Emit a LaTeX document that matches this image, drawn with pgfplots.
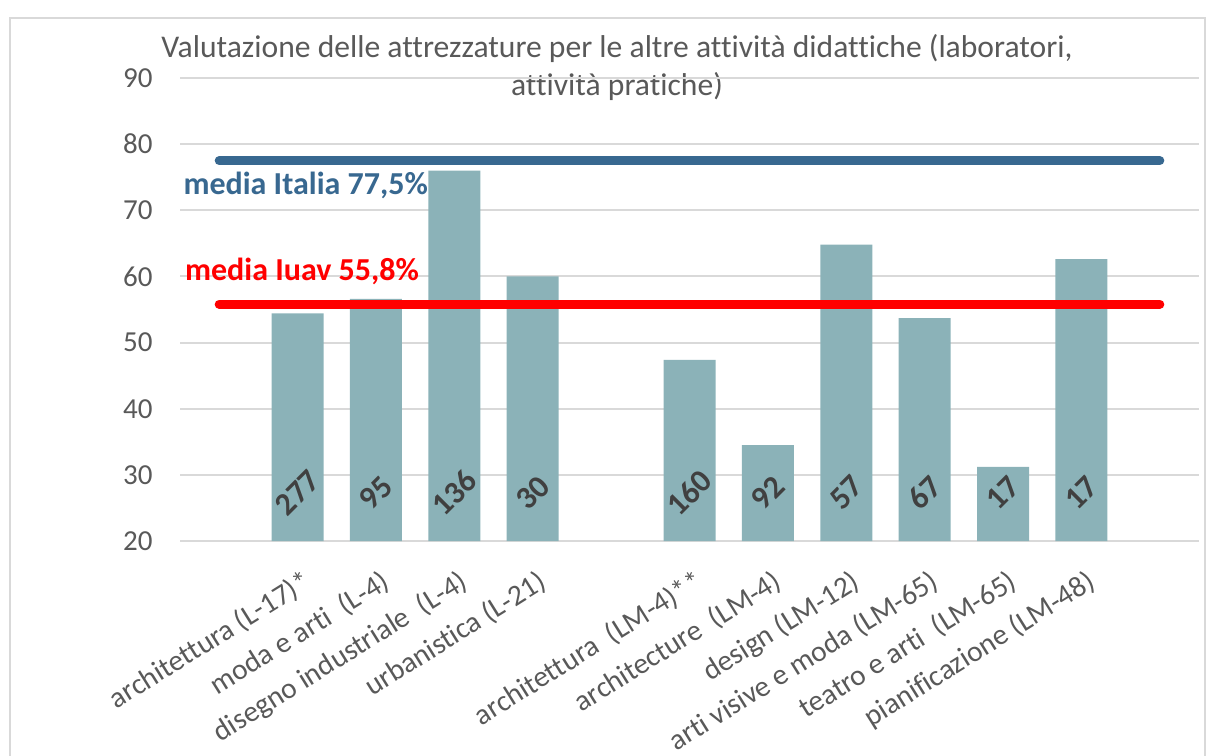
\documentclass[border=0pt]{standalone}
\usepackage{fontspec}
\setmainfont{Carlito}[Ligatures=NoCommon]
\usepackage{pgfplots}
\pgfplotsset{compat=1.18}

\definecolor{barc}{HTML}{8BB2B8}
\definecolor{italia}{HTML}{386890}
\definecolor{txtgray}{HTML}{595959}
\definecolor{gridc}{HTML}{D9D9D9}
\definecolor{lblc}{HTML}{404040}

\begin{document}
\begin{tikzpicture}
\useasboundingbox (0pt,0pt) rectangle (604pt,377.5pt);
\draw[gridc, line width=0.8pt] (5pt,-2pt) rectangle (602.5pt,368.5pt);
% titolo
\node[align=center, text=txtgray, font=\fontsize{15.8}{19}\selectfont]
  at (308.5pt,343.5pt) {Valutazione delle attrezzature per le altre attività didattiche (laboratori,\\attività pratiche)};
\begin{axis}[
    at={(90pt,107pt)}, anchor=south west,
    scale only axis, width=509.5pt, height=231.5pt,
    xmin=-0.5, xmax=12.5, ymin=20, ymax=90,
    ytick={20,30,...,90},
    xtick={1,2,3,4,6,7,8,9,10,11},
    xticklabels={architettura (L-17)*, moda e arti\ \ (L-4), disegno industriale\ \ (L-4), urbanistica (L-21),
        architettura\ \ (LM-4)**, architecture\ \ (LM-4), design (LM-12), arti visive e moda (LM-65),
        teatro e arti\ \ (LM-65), pianificazione (LM-48)},
    axis line style={draw=none},
    major tick length=0pt,
    ymajorgrids, grid style={gridc, line width=1pt},
    /pgf/number format/assume math mode=true,
    yticklabel style={font=\fontsize{14.5}{14.5}\selectfont, text=txtgray, anchor=east, inner sep=0pt, xshift=-13.5pt},
    xticklabel style={xshift=2pt, yshift=-13.5pt, font=\fontsize{14.7}{14.7}\selectfont, text=txtgray,
        rotate=32, anchor=north east, inner sep=0pt},
    clip=false,
]
\addplot[ybar, bar width=26pt, fill=barc, draw=none] coordinates {
    (1,54.4) (2,56.6) (3,76.0) (4,60.0)
    (6,47.4) (7,34.5) (8,64.8) (9,53.7) (10,31.2) (11,62.6)
};
% numerosità
\addplot[draw=none, mark=none, nodes near coords, point meta=explicit symbolic,
    every node near coord/.append style={anchor=center, rotate=45, inner sep=0pt,
        font=\bfseries\fontsize{16}{16}\selectfont, text=lblc}] coordinates {
    (1,27.3) [277] (2,27.3) [95] (3,27.3) [136] (4,27.3) [30]
    (6,27.3) [160] (7,27.3) [92] (8,27.3) [57] (9,27.3) [67] (10,27.3) [17] (11,27.3) [17]
};
% medie
\addplot[italia, line width=4.5pt, line cap=round] coordinates {(0,77.5) (12,77.5)};
\addplot[red, line width=4.5pt, line cap=round] coordinates {(0,55.8) (12,55.8)};
\node[anchor=west, inner sep=0pt, text=italia, font=\bfseries\fontsize{16}{16}\selectfont]
    at (axis cs:-0.46,73.7) {media Italia 77,5\%};
\node[anchor=west, inner sep=0pt, text=red, font=\bfseries\fontsize{16}{16}\selectfont]
    at (axis cs:-0.44,60.7) {media Iuav 55,8\%};
\end{axis}
\end{tikzpicture}
\end{document}
